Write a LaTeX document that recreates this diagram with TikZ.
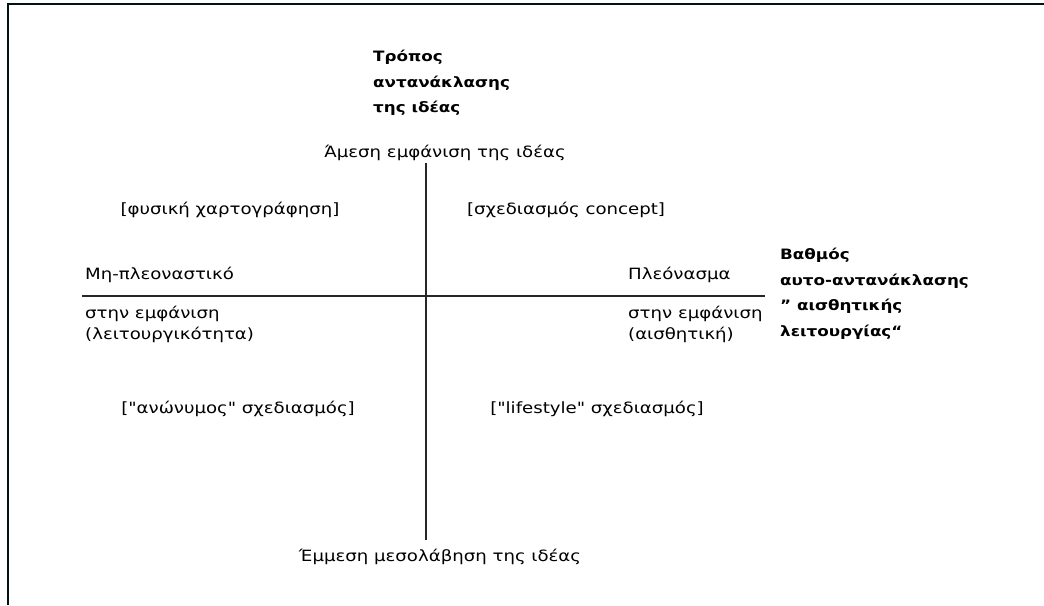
\documentclass[tikz,border=0pt]{standalone}
\usepackage{fontspec}
\setmainfont{DejaVu Sans}[FakeStretch=1.17, Ligatures=TeXOff]
\begin{document}
\begin{tikzpicture}[x=1pt,y=-1pt,
  lbl/.style={inner sep=0pt, font=\fontsize{15.5}{21}\selectfont, align=left},
  head/.style={inner sep=0pt, font=\fontsize{14.3}{25.5}\selectfont\bfseries, align=left},
  axis/.style={line width=1.8pt, black!85},
  frame/.style={line width=2.6pt, black!85!teal}]
  \useasboundingbox (0,0) rectangle (1044,605);
  % outer frame: top and left edges only
  \coordinate (ftl) at (8,4);
  \coordinate (ftr) at (1044,4);
  \coordinate (fbl) at (8,605);
  \draw[frame] (ftr) -- (ftl) -- (fbl);
  % axes
  \coordinate (vtop) at (426,163);
  \coordinate (vbot) at (426,540);
  \coordinate (hl) at (82,296);
  \coordinate (hr) at (765,296);
  \draw[axis] (vtop) -- (vbot);
  \draw[axis] (hl) -- (hr);
  % vertical axis
  \node[head, anchor=north west] (vtitle) at (373,50) {Τρόπος\\αντανάκλασης\\της ιδέας};
  \node[lbl, anchor=center] (vtoplbl) at (445,153) {Άμεση εμφάνιση της ιδέας};
  \node[lbl, anchor=center] (vbotlbl) at (440,557) {Έμμεση μεσολάβηση της ιδέας};
  % horizontal axis
  \node[head, anchor=north west] (htitle) at (780,248) {Βαθμός\\αυτο-αντανάκλασης\\” αισθητικής\\λειτουργίας“};
  \node[lbl, anchor=west] (hleft) at (85,275) {Μη-πλεοναστικό};
  \node[lbl, anchor=north west] (hleft2) at (85,306) {στην εμφάνιση\\(λειτουργικότητα)};
  \node[lbl, anchor=west] (hright) at (628,275) {Πλεόνασμα};
  \node[lbl, anchor=north west] (hright2) at (628,306) {στην εμφάνιση\\(αισθητική)};
  % quadrants
  \node[lbl, anchor=center] (q1) at (230,210) {[φυσική χαρτογράφηση]};
  \node[lbl, anchor=center] (q2) at (566,210) {[σχεδιασμός concept]};
  \node[lbl, anchor=center] (q3) at (238,409) {["ανώνυμος" σχεδιασμός]};
  \node[lbl, anchor=center] (q4) at (597,409) {["lifestyle" σχεδιασμός]};
\end{tikzpicture}
\end{document}
